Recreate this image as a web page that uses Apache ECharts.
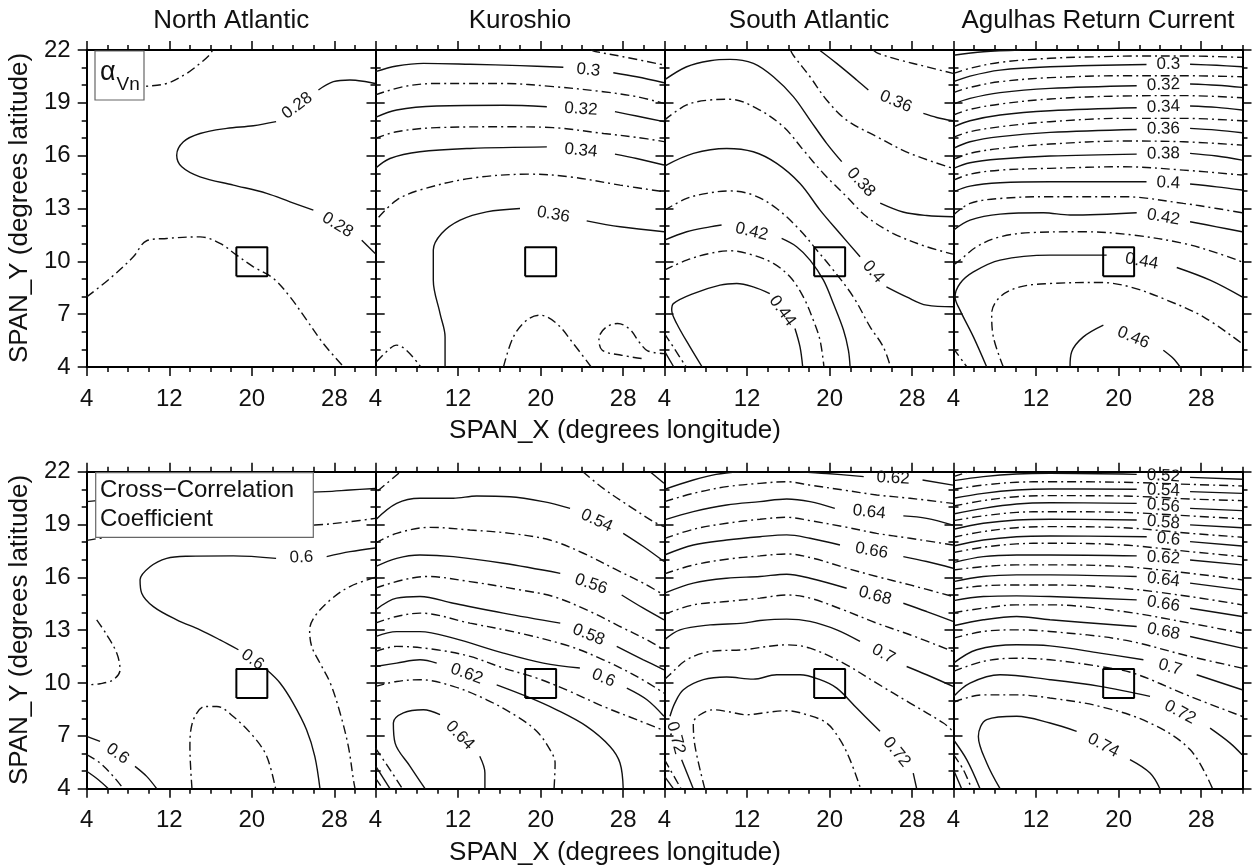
<!DOCTYPE html>
<html>
<head>
<meta charset="utf-8">
<title>alpha Vn / cross-correlation contours</title>
<script src="https://cdn.jsdelivr.net/npm/echarts@6.0.0/dist/echarts.min.js"></script>
<style>
  html, body { margin: 0; padding: 0; background: #fff; }
  #chart { width: 1256px; height: 867px; }
</style>
</head>
<body>
<div id="chart"></div>
<script>
const FONT = '"Liberation Sans", Arial, Helvetica, sans-serif'
const INK = '#111'

const panelTitles = ['North Atlantic', 'Kuroshio', 'South Atlantic', 'Agulhas Return Current']
const xTicks = [4, 12, 20, 28]
const yTicks = [4, 7, 10, 13, 16, 19, 22]
// the 20 x 10 degree reference box
const boxX = [18.5, 21.5]
const boxY = [9.15, 10.8]

// contour lines: [level, part, part, ...]
// each part is a flat list x,y,x,y... ; the level label sits in the gap between parts
// even hundredths are solid, odd ones dash-dot
const naVn = [
  [0.29, [8.5,19.85, 9.5,19.92, 11.75,20.1, 13.69,20.67, 14.98,21.24, 15.89,21.72, 16.2,22]],
  [0.28, [31.95,20.1, 31.1,20.2, 29.5,20.3, 27.9,20.2, 26.45,19.73],
         [22.35,17.93, 20.15,17.7, 17.57,17.55, 14.98,17.26, 13.37,16.79, 12.72,16.03, 13.21,15.37, 14.98,14.8, 18.21,14.33, 21.44,13.86, 23.7,13.38, 25.96,12.91],
         [30.65,11.2, 31.95,10.45]],
  [0.27, [4,7.98, 6.26,9.03, 8.52,10.26, 9.81,11.17, 11.75,11.3, 14.98,11.39, 16.92,11.02, 18.53,10.35, 20.15,9.69, 22.09,9.03, 23.7,7.98, 25.32,6.66, 26.93,5.33, 28.9,4]]
]

const kuVn = [
  [0.29, [24.9,22, 25.43,21.9, 27.99,21.62, 31.95,21.15]],
  [0.3, [4,20.77, 6.05,21.09, 8.64,21.24, 13.16,21.19, 18,21.11, 22.2,21.02], [27.04,20.71, 29.3,20.48, 31.95,20.14]],
  [0.31, [4,19.45, 6.7,19.92, 9.93,20.1, 16.39,20.1, 21.23,19.92, 26.07,19.63, 29.3,19.35, 31.95,18.97]],
  [0.32, [4,18.17, 6.05,18.59, 9.93,18.82, 16.4,18.86, 20.6,18.78], [27.2,18.5, 29.3,18.25, 31.95,17.93]],
  [0.33, [4,16.98, 6.05,17.36, 9.93,17.59, 16.4,17.64, 21.2,17.59, 26.1,17.26, 29.3,17.04, 31.95,16.8]],
  [0.34, [4,15.28, 5.4,15.84, 8.3,16.22, 13.16,16.41, 20.6,16.5], [27.2,16.09, 29.3,15.84, 31.95,15.47]],
  [0.35, [4.3,12.5, 6.05,13.48, 8.3,14.05, 13.16,14.71, 18.97,14.95, 22.8,14.8, 27.7,14.33, 31.95,13.95]],
  [0.36, [10.74,4, 10.74,5.71, 10.25,7.04, 9.6,8.93, 9.6,10.64, 10.4,11.58, 12.2,12.34, 14.77,12.81, 18,13], [24.46,12.3, 27.7,11.96, 31.95,11.68]],
  [0.37, [16.4,4, 17.36,5.71, 18.65,6.66, 19.94,6.94, 21.55,6.47, 23.17,5.33, 24.9,4]],
  [0.37, [4.1,4.3, 5.4,5.05, 6.05,5.24, 7,4.95, 8.4,4]],
  [0.37, [29.78,4.48, 27.84,4.67, 25.97,4.95, 25.65,5.62, 26.3,6.24, 27.46,6.47, 28.66,6.13, 29.53,5.43, 30.37,4.92, 31.95,4.76]]
]

const saVn = [
  [0.35, [24.2,22, 24.7,21.81, 26.8,21.43, 29.4,21.05, 31.95,20.67]],
  [0.36, [19,22, 20.68,21.24, 22.62,20.3, 23.75,19.73], [29.08,18.4, 30.37,18.17, 31.95,17.98]],
  [0.37, [16.2,22, 16.48,21.7, 18.1,20.48, 19.71,19.16, 21.65,18.02, 24.56,17.08, 27.78,16.13, 31.95,15.28]],
  [0.38, [4,20.3, 6.15,21.05, 8.41,21.39, 10.35,21.47, 12.61,21.24, 14.55,20.48, 16.48,19.35, 18.1,18.02, 19.71,16.7, 21.17,15.66], [24.9,13.3, 27.1,12.8, 29.4,12.6, 31.95,12.53]],
  [0.39, [4,18.02, 6.15,18.88, 8.4,19.16, 10.35,19.2, 12.93,18.69, 15.52,17.64, 17.45,16.32, 19.4,14.99, 21.65,13.67, 23.6,12.53, 26.17,11.58, 29.4,10.83, 31.95,10.41]],
  [0.4, [4,15.41, 6.8,16.13, 10.03,16.41, 12.6,16.22, 14.87,15.56, 17.13,14.42, 19.07,12.91, 21,11.58, 22.95,10.26], [25.5,8.55, 27.45,7.98, 29.4,7.51, 31.95,7.42]],
  [0.41, [4,12.9, 6.15,13.57, 8.1,13.86, 10.35,14, 12.6,13.76, 14.87,13, 17.13,11.77, 18.75,10.64, 20.36,9.5, 22.3,7.98, 23.92,6.28, 25.2,5.14, 25.9,4]],
  [0.42, [4,11.2, 6.15,11.68, 8.4,11.96, 9.53,12.06], [15.35,11.3, 16.8,10.83, 18.1,10.07, 19.4,8.93, 20.36,7.6, 21.34,6.1, 21.82,4.95, 21.98,4]],
  [0.43, [4,9.5, 6.15,10.07, 8.4,10.45, 10.35,10.6, 12.6,10.35, 14.55,9.88, 16.16,9.12, 17.45,7.98, 18.42,6.66, 19.07,5.52, 19.45,4]],
  [0.44, [7.65,4, 6.47,5.14, 5.18,6.47, 4.7,7.23, 4.86,7.6, 6.8,8.17, 9.38,8.65, 11,8.74, 12.6,8.55, 14.2,8.17], [16.64,6.19, 17.13,5.14, 17.39,4]],
  [0.45, [4,5.9, 5,5, 6.1,4]],
  [0.46, [4,4.9, 4.9,4]]
]

const agVn = [
  [0.28, [4,21.7, 6.9,21.9, 10.5,22]],
  [0.29, [4,20.67, 5.6,20.96, 8.51,21.3, 13.35,21.53, 18.2,21.62, 21.75,21.66, 26.27,21.66, 31.96,21.58]],
  [0.3, [4,20.2, 5.6,20.52, 8.51,20.86, 13.35,21.05, 22.7,21.18], [26.92,21.19, 29.5,21.13, 31.96,21.05]],
  [0.31, [4,19.58, 5.6,19.88, 8.51,20.2, 13.35,20.43, 20.46,20.54, 26.27,20.54, 31.96,20.48]],
  [0.32, [4,18.93, 5.6,19.25, 8.51,19.58, 13.35,19.82, 21.75,19.97], [26.92,20.07, 29.5,20, 31.96,19.88]],
  [0.33, [4,18.31, 5.6,18.63, 8.51,18.93, 13.35,19.22, 20.46,19.39, 26.27,19.41, 31.96,19.29]],
  [0.34, [4,17.64, 5.6,17.98, 8.51,18.31, 13.35,18.55, 21.75,18.72], [26.92,18.82, 29.5,18.74, 31.96,18.59]],
  [0.35, [4,17.04, 5.6,17.36, 8.51,17.64, 13.35,17.93, 20.46,18.12, 26.27,18.12, 31.96,17.98]],
  [0.36, [4,16.41, 5.6,16.79, 8.51,17.08, 13.35,17.32, 21.75,17.49], [26.92,17.55, 29.5,17.45, 31.96,17.3]],
  [0.37, [4,15.79, 5.6,16.13, 8.51,16.41, 13.35,16.66, 20.46,16.83, 26.27,16.79, 31.96,16.6]],
  [0.38, [4,15.28, 5.6,15.6, 8.51,15.81, 13.35,15.98, 21.75,16.09], [26.92,16.13, 29.5,15.98, 31.96,15.75]],
  [0.39, [4,14.61, 5.6,14.95, 8.51,15.18, 13.35,15.28, 20.46,15.37, 26.27,15.18, 31.96,14.9]],
  [0.4, [4,13.95, 5.6,14.27, 8.51,14.46, 13.35,14.52, 22.7,14.52], [26.92,14.39, 29.5,14.23, 31.96,14.05]],
  [0.41, [4,12.63, 5.6,13.29, 8.51,13.57, 13.35,13.67, 20.46,13.67, 26.27,13.29, 29.5,13, 31.96,12.76]],
  [0.42, [4,11.77, 5.6,12.34, 8.51,12.68, 12.71,12.76, 15.29,12.63, 21.75,12.76], [26.92,12.25, 29.5,11.96, 31.96,11.68]],
  [0.43, [4,9.8, 4.63,10.07, 6.25,10.83, 8.51,11.39, 11.74,11.64, 16.58,11.68, 21.43,11.49, 26.27,11.02, 29.5,10.48, 31.96,9.97]],
  [0.44, [7.22,4, 5.93,5.71, 4.63,7.23, 4.15,7.98, 4.63,8.74, 5.93,9.4, 8.51,10.07, 13.35,10.35, 18.84,10.35], [25.63,9.65, 28.86,8.93, 31.96,7.98]],
  [0.45, [8.83,4, 7.86,5.71, 7.7,7.04, 8.51,7.98, 10.45,8.55, 13.35,8.74, 18.2,8.8, 21.1,8.55, 24.66,7.8, 28.21,6.85, 31.96,5.33]],
  [0.46, [15.29,4, 15.45,4.86, 16.58,5.71, 18.52,6.38], [24.33,4.95, 25.3,4.48, 25.95,4]],
  [0.43, [4,5.05, 5.3,4]]
]

const naCc = [
  [0.62, [4,20.3, 8,20.5, 15,20.7, 22,20.8, 27.1,20.87, 29.5,20.96, 31.95,21.05]],
  [0.61, [4,18.1, 5,18.2, 10,18.6, 20,18.9, 26.1,18.97, 29.5,19.16, 31.95,19.35]],
  [0.6, [31.95,17.67, 29.52,17.46, 27.25,17.18],
        [22.35,17.08, 18.2,17.22, 13.7,17.2, 11.75,17.08, 10.14,16.6, 9.17,15.86, 9.33,15.1, 10.46,14.34, 12.72,13.59, 14.98,13.02, 16.92,12.45, 18.7,11.89],
        [21.44,10.75, 22.73,10, 24,8.86, 25.3,7.35, 26.1,5.84, 26.6,4]],
  [0.59, [31.95,16, 29.5,15.48, 27.6,14.72, 26.1,13.78, 25.6,13.02, 25.8,12.08, 26.6,11.13, 27.6,10, 28.55,8.3, 29.35,6.4, 29.84,4.51, 30,4]],
  [0.59, [4.97,13.59, 5.94,12.74, 6.91,11.7, 7.23,10.75, 6.58,10.19, 5.29,9.96, 4,9.9]],
  [0.61, [14.2,4, 14,6.4, 14.34,7.92, 15.47,8.67, 16.6,8.67, 18.2,8.1, 20.15,6.97, 21.44,5.84, 22.3,4]],
  [0.6, [4,6.97, 5.29,6.69], [8.68,5.27, 9.81,4.7, 10.78,4]],
  [0.61, [4,5.93, 5.29,5.46, 6.58,4.7, 7.55,4]],
  [0.62, [4,4.99, 5.13,4.51, 6.1,4]]
]

const kuCc = [
  [0.53, [4.2,20.9, 6.05,21.81, 6.4,22]],
  [0.53, [24.1,22, 26.07,21.05, 28.66,20.02, 30.92,19.17, 31.95,18.88]],
  [0.52, [30.6,22, 31.95,21.34]],
  [0.54, [4,19.26, 6.05,20.2, 8.31,20.49, 11.54,20.49, 13.8,20.62, 17,20.58, 20.26,20.3, 22.85,19.92], [28,18.5, 29.95,17.75, 31.95,16.9]],
  [0.55, [4,17.94, 6.05,18.5, 9.28,18.84, 13.16,18.69, 17.03,18.5, 20.9,18.12, 24.14,17.37, 27.37,16.42, 29.95,15.67, 31.95,15]],
  [0.56, [4,16.61, 6.05,17.08, 8.31,17.27, 11.54,17.18, 16.39,16.8, 21.9,16.23], [27.85,15, 29.95,14.25, 31.95,13.59]],
  [0.57, [4,15.4, 6.7,15.86, 8.96,16.05, 13.16,15.76, 18,15.29, 21.23,14.91, 24.46,14.15, 27.69,13.21, 30.3,12.45, 31.95,11.89]],
  [0.58, [4,14.15, 6.05,14.82, 8.31,14.91, 11.54,14.53, 16.39,13.97, 21.9,13.4], [27.37,12.08, 29.95,11.32, 31.95,10.75]],
  [0.59, [4,13.4, 6.05,13.78, 8.31,13.97, 13.16,13.4, 18,12.83, 22.85,12.08, 26.07,11.32, 29.3,10.38, 31.95,9.43]],
  [0.6, [4,12.64, 6.05,12.92, 8.31,12.92, 11.54,12.55, 16.39,11.7, 20.26,11.13, 23.8,10.85], [28.35,9.71, 30.3,9.05, 31.95,8.11]],
  [0.61, [4,11.79, 6.05,12.08, 9.93,11.89, 13.16,11.51, 16.39,10.85, 19.62,10.28, 22.85,9.52, 26.07,8.67, 29.3,7.92, 31.95,7.3]],
  [0.62, [4,10.94, 6.05,11.13, 8.31,11.32, 9.93,11.13], [15.74,9.9, 18.65,9.24, 21.55,8.48, 24.46,7.54, 26.72,6.4, 27.69,5.46, 28,4]],
  [0.63, [4,9.81, 6.05,10.09, 8.31,10.19, 11.54,9.81, 14.77,9.05, 17.68,8.11, 19.62,7.26, 20.9,6.22, 21.4,5.46, 21.3,4]],
  [0.64, [8.8,4, 7.35,5.27, 5.9,6.59, 5.73,7.73, 6.7,8.3, 8.64,8.48, 10.25,8.2], [14.1,5.84, 14.6,4.89, 14.6,4]],
  [0.63, [4,6.3, 5.5,5, 6.6,4]],
  [0.64, [4,5.3, 5.4,4]],
  [0.65, [4,4.6, 4.7,4]]
]

const saCc = [
  [0.62, [4,21, 6.79,21.53, 9,21.85, 11.3,22]],
  [0.62, [17.1,22, 19.7,21.9, 23.3,21.72], [29,21.53, 31.95,21.24]],
  [0.63, [4,20.3, 6.79,20.77, 10.02,21.15, 13.25,21.34, 15.84,21.43, 18.1,21.24, 21.33,20.96, 24.56,20.68, 27.79,20.49, 31.95,20.2]],
  [0.64, [4,19.26, 6.79,19.73, 10.02,20.11, 13.25,20.3, 15.84,20.45, 18.1,20.3, 20.5,19.92], [27.14,19.49, 29.4,19.35, 31.95,18.97]],
  [0.65, [4,18.2, 6.79,18.73, 10.02,19.07, 13.25,19.3, 15.84,19.41, 18.1,19.22, 21.33,18.88, 24.56,18.5, 27.79,18.22, 31.95,17.84]],
  [0.66, [4,17.27, 6.79,17.84, 10.02,18.12, 13.25,18.31, 15.84,18.41, 18.1,18.22, 21,17.84], [27.14,17.18, 29.4,16.9, 31.95,16.52]],
  [0.67, [4,16.2, 6.79,16.7, 10.02,17.03, 13.25,17.22, 15.84,17.33, 18.42,17.08, 21.65,16.52, 24.56,16.05, 27.79,15.57, 31.95,14.91]],
  [0.68, [4,15.1, 6.79,15.67, 10.02,15.95, 13.25,16.05, 15.84,16.18, 18.1,15.95, 21.65,15.38], [27.14,14.53, 29.4,14.06, 31.95,13.5]],
  [0.69, [4,13.9, 6.79,14.44, 10.02,14.63, 13.25,14.82, 15.84,15, 18.1,14.82, 21.33,14.15, 24.56,13.4, 27.79,12.74, 31.95,11.8]],
  [0.7, [4,12.45, 5.5,13.02, 8.41,13.3, 11.64,13.4, 13.25,13.55, 15.84,13.63, 18.1,13.5, 20.69,13.02, 22.94,12.36], [27.46,10.94, 29.4,10.47, 31.95,9.81]],
  [0.71, [4,10.2, 4.5,10.47, 6.15,11.32, 8.41,11.79, 11.64,11.89, 15.84,12.17, 18.1,11.98, 21.33,11.13, 24.56,9.99, 27.79,8.86, 31.02,7.73, 31.95,7.26]],
  [0.72, [6.79,4, 5.66,5.65],
         [4.53,8.11, 5,8.86, 5.83,9.62, 7.76,10.19, 10.02,10.34, 12.6,10.22, 14.87,10.47, 17.13,10.47, 19.07,10.19, 20.69,9.71, 22.62,8.58, 24.88,7.26],
         [28.1,4.89, 28.43,4]],
  [0.73, [7.9,4, 6.96,6.4, 6.79,7.73, 7.44,8.2, 8.73,8.48, 10.02,8.39, 11.96,8.2, 13.9,8.33, 15.84,8.43, 17.78,8.2, 19.71,7.73, 21,6.78, 21.97,5.65, 23,4]],
  [0.71, [4,5.65, 5.6,4]],
  [0.7, [4,4.7, 4.86,4]]
]

const agCc = [
  [0.51, [4,21.72, 5.5,22]],
  [0.52, [4,21.49, 6.89,21.72, 10.12,21.87, 13.35,21.91, 21.75,21.85], [26.92,21.68, 31.96,21.57]],
  [0.53, [4,21, 6.89,21.24, 10.12,21.4, 13.35,21.43, 20.46,21.4, 26.92,21.28, 31.96,21.19]],
  [0.54, [4,20.49, 6.89,20.77, 10.12,20.96, 13.35,21.02, 21.75,21], [26.92,20.87, 31.96,20.77]],
  [0.55, [4,20.05, 6.89,20.36, 10.12,20.58, 13.35,20.64, 20.46,20.62, 26.92,20.45, 31.96,20.36]],
  [0.56, [4,19.6, 6.89,19.92, 10.12,20.17, 13.35,20.24, 21.75,20.2], [26.92,19.92, 31.96,19.79]],
  [0.57, [4,19.22, 6.89,19.49, 10.12,19.69, 13.35,19.73, 20.46,19.69, 26.92,19.49, 31.96,19.32]],
  [0.58, [4,18.73, 6.89,19.07, 10.12,19.26, 13.35,19.3, 21.75,19.26], [26.92,18.98, 31.96,18.82]],
  [0.59, [4,18.28, 6.89,18.6, 10.12,18.82, 13.35,18.88, 20.46,18.82, 26.92,18.5, 31.96,18.28]],
  [0.6, [4,17.78, 6.89,18.12, 10.12,18.31, 13.35,18.35, 22.72,18.31], [26.92,18.03, 31.96,17.78]],
  [0.61, [4,17.41, 6.89,17.71, 10.12,17.9, 13.35,17.94, 20.46,17.84, 26.92,17.46, 31.96,17.18]],
  [0.62, [4,16.84, 6.89,17.18, 10.12,17.27, 13.35,17.27, 21.75,17.22], [26.92,16.99, 31.96,16.71]],
  [0.63, [4,16.42, 6.89,16.61, 10.12,16.71, 13.35,16.71, 20.46,16.61, 26.92,16.23, 31.96,15.86]],
  [0.64, [4,15.76, 6.89,16.05, 10.12,16.14, 13.35,16.14, 21.75,16.05], [26.92,15.67, 31.96,15.29]],
  [0.65, [4,15.33, 6.89,15.52, 10.12,15.57, 13.35,15.57, 20.46,15.38, 26.92,14.91, 31.96,14.44]],
  [0.66, [4,14.68, 6.89,14.91, 10.12,14.95, 13.35,14.91, 21.75,14.72], [26.92,14.25, 31.96,13.78]],
  [0.67, [4,14, 6.89,14.25, 10.12,14.44, 13.35,14.44, 20.46,14.06, 26.92,13.4, 31.96,12.83]],
  [0.68, [4,13.25, 6.89,13.59, 10.12,13.78, 13.35,13.59, 21.75,13.21], [26.92,12.64, 31.96,11.98]],
  [0.69, [4,12.55, 6.89,12.93, 10.12,13.02, 13.35,12.93, 20.46,12.45, 26.92,11.51, 31.96,10.85]],
  [0.7, [4,11.13, 6.25,11.89, 10.12,12.17, 13.35,12.11, 18.2,11.7, 22.4,11.32], [27.56,10.47, 31.96,9.62]],
  [0.71, [4,10.66, 6.89,11.23, 10.12,11.41, 13.35,11.32, 18.2,10.94, 21.43,10.56, 26.92,9.24, 31.96,8.11]],
  [0.72, [4,9.24, 5.6,10, 8.51,10.47, 13.35,10.19, 18.2,9.81, 23.04,9.24], [28.86,7.44, 30.8,6.59, 31.96,5.93]],
  [0.73, [4,8.9, 4.63,9.05, 6.89,9.33, 10.12,9.33, 13.35,9.15, 18.2,8.67, 23.04,7.73, 26.92,6.22, 29.1,4]],
  [0.74, [8.51,4, 7.22,5.46, 6.41,6.97, 7.22,7.92, 10.12,8.11, 13.35,7.73, 15.93,7.26], [21.1,5.65, 23.04,4.89, 24,4]],
  [0.72, [4,6.78, 5.28,5.65, 6.57,4]],
  [0.71, [4,5.93, 4.95,5.08, 5.76,4]],
  [0.7, [4,5.08, 4.79,4]]
]

const panels = [naVn, kuVn, saVn, agVn, naCc, kuCc, saCc, agCc]

// layout in pixels
const LEFT = [86.7, 375.5, 664.5, 953.5]
const TOP = [50, 471.7]
const W = 289
const H = 317
const PX = W / 28   // px per degree longitude
const PY = H / 18   // px per degree latitude

function pairs(flat) {
  const out = []
  for (let k = 0; k < flat.length; k += 2) out.push([flat[k], flat[k + 1]])
  return out
}

const axisLineStyle = { color: '#000', width: 2 }
const tickStyle = { color: '#000', width: 1.5 }

function xAxes(g, pos, withLabels) {
  const base = { type: 'value', gridIndex: g, position: pos, min: 4, max: 32, interval: 2, splitLine: { show: false } }
  return [
    Object.assign({}, base, {
      axisLine: { show: true, onZero: false, lineStyle: axisLineStyle },
      axisTick: { show: true, length: 5, lineStyle: tickStyle },
      axisLabel: { show: withLabels, customValues: xTicks, margin: 20, fontSize: 24, color: INK, fontFamily: FONT }
    }),
    Object.assign({}, base, {
      axisLine: { show: false, onZero: false },
      axisTick: { show: true, length: 9, customValues: xTicks, lineStyle: tickStyle },
      axisLabel: { show: false }
    })
  ]
}

function yAxes(g, pos, withLabels) {
  const base = { type: 'value', gridIndex: g, position: pos, min: 4, max: 22, interval: 1, splitLine: { show: false } }
  return [
    Object.assign({}, base, {
      axisLine: { show: true, onZero: false, lineStyle: axisLineStyle },
      axisTick: { show: true, length: 5, lineStyle: tickStyle },
      axisLabel: { show: withLabels, customValues: yTicks, margin: 16, fontSize: 24, color: INK, fontFamily: FONT }
    }),
    Object.assign({}, base, {
      axisLine: { show: false, onZero: false },
      axisTick: { show: true, length: 9, customValues: yTicks, lineStyle: tickStyle },
      axisLabel: { show: false }
    })
  ]
}

const grid = []
const xAxis = []
const yAxis = []
const series = []

panels.forEach((lines, g) => {
  const col = g % 4
  const row = Math.floor(g / 4)
  grid.push({ left: LEFT[col], top: TOP[row], width: W, height: H })
  xAxis.push(...xAxes(g, 'bottom', true), ...xAxes(g, 'top', false))
  yAxis.push(...yAxes(g, 'left', col === 0), ...yAxes(g, 'right', false))
  const xi = g * 4
  const yi = g * 4

  const labels = []
  lines.forEach(([level, ...parts]) => {
    const solid = Math.round(level * 100) % 2 === 0
    parts.forEach((flat, j) => {
      series.push({
        type: 'line', xAxisIndex: xi, yAxisIndex: yi,
        data: pairs(flat), smooth: 0.35, symbol: 'none', silent: true, z: 3,
        lineStyle: { color: '#111', width: 1.4, type: solid ? 'solid' : [9, 4, 2, 4] }
      })
      if (j < parts.length - 1) {
        // label goes in the gap between this part and the next
        const a = [flat[flat.length - 2], flat[flat.length - 1]]
        const b = [parts[j + 1][0], parts[j + 1][1]]
        let dx = (b[0] - a[0]) * PX
        let dy = (b[1] - a[1]) * PY
        if (dx < 0) { dx = -dx; dy = -dy }
        const ang = Math.atan2(dy, dx) * 180 / Math.PI
        labels.push({
          value: [(a[0] + b[0]) / 2, (a[1] + b[1]) / 2],
          name: String(level),
          label: { rotate: Math.round(ang) }
        })
      }
    })
  })

  series.push({
    type: 'scatter', xAxisIndex: xi, yAxisIndex: yi, silent: true, z: 4,
    symbol: 'circle', symbolSize: 2, itemStyle: { color: 'rgba(255,255,255,0)' },
    label: {
      show: true, position: 'inside', formatter: p => p.name, opacity: 1,
      fontSize: 17, color: '#151515', fontFamily: FONT, align: 'center', verticalAlign: 'middle'
    },
    labelLayout: { hideOverlap: false },
    data: labels
  })

  // reference box at 20 x 10 degrees
  series.push({
    type: 'line', xAxisIndex: xi, yAxisIndex: yi, silent: true, z: 5, symbol: 'none',
    data: [[boxX[0], boxY[0]], [boxX[1], boxY[0]], [boxX[1], boxY[1]], [boxX[0], boxY[1]], [boxX[0], boxY[0]]],
    lineStyle: { color: '#000', width: 2 }
  })
})

const textStyle = (text, size, align) => ({
  text: text, fontSize: size, fontFamily: FONT, fill: INK, align: align || 'center', verticalAlign: 'middle'
})

const graphic = []
panelTitles.forEach((t, c) => {
  graphic.push({ type: 'text', x: LEFT[c] + W / 2, y: 21, z: 10, style: textStyle(t, 26) })
})
;[431, 853].forEach(y => {
  graphic.push({ type: 'text', x: 615, y: y, z: 10, style: textStyle('SPAN_X (degrees longitude)', 26) })
})
;[208, 630].forEach(y => {
  graphic.push({ type: 'text', x: 19.5, y: y, rotation: Math.PI / 2, z: 10, style: textStyle('SPAN_Y (degrees latitude)', 26) })
})
// annotation boxes
graphic.push(
  { type: 'rect', z: 10, shape: { x: 95, y: 51, width: 49, height: 49 }, style: { fill: '#fff', stroke: '#666', lineWidth: 1.2 } },
  { type: 'text', z: 11, x: 100, y: 72.5, style: textStyle('α', 27, 'left') },
  { type: 'text', z: 11, x: 116.5, y: 85, style: textStyle('Vn', 19, 'left') },
  { type: 'rect', z: 10, shape: { x: 95.7, y: 472.7, width: 217.6, height: 64.6 }, style: { fill: '#fff', stroke: '#666', lineWidth: 1.2 } },
  { type: 'text', z: 11, x: 100, y: 490, style: textStyle('Cross\u2212Correlation', 24, 'left') },
  { type: 'text', z: 11, x: 100, y: 519, style: textStyle('Coefficient', 24, 'left') }
)

const chart = echarts.init(document.getElementById('chart'), null, { renderer: 'canvas' })
chart.setOption({
  backgroundColor: '#fff',
  animation: false,
  grid: grid,
  xAxis: xAxis,
  yAxis: yAxis,
  series: series,
  graphic: graphic
})
</script>
</body>
</html>
